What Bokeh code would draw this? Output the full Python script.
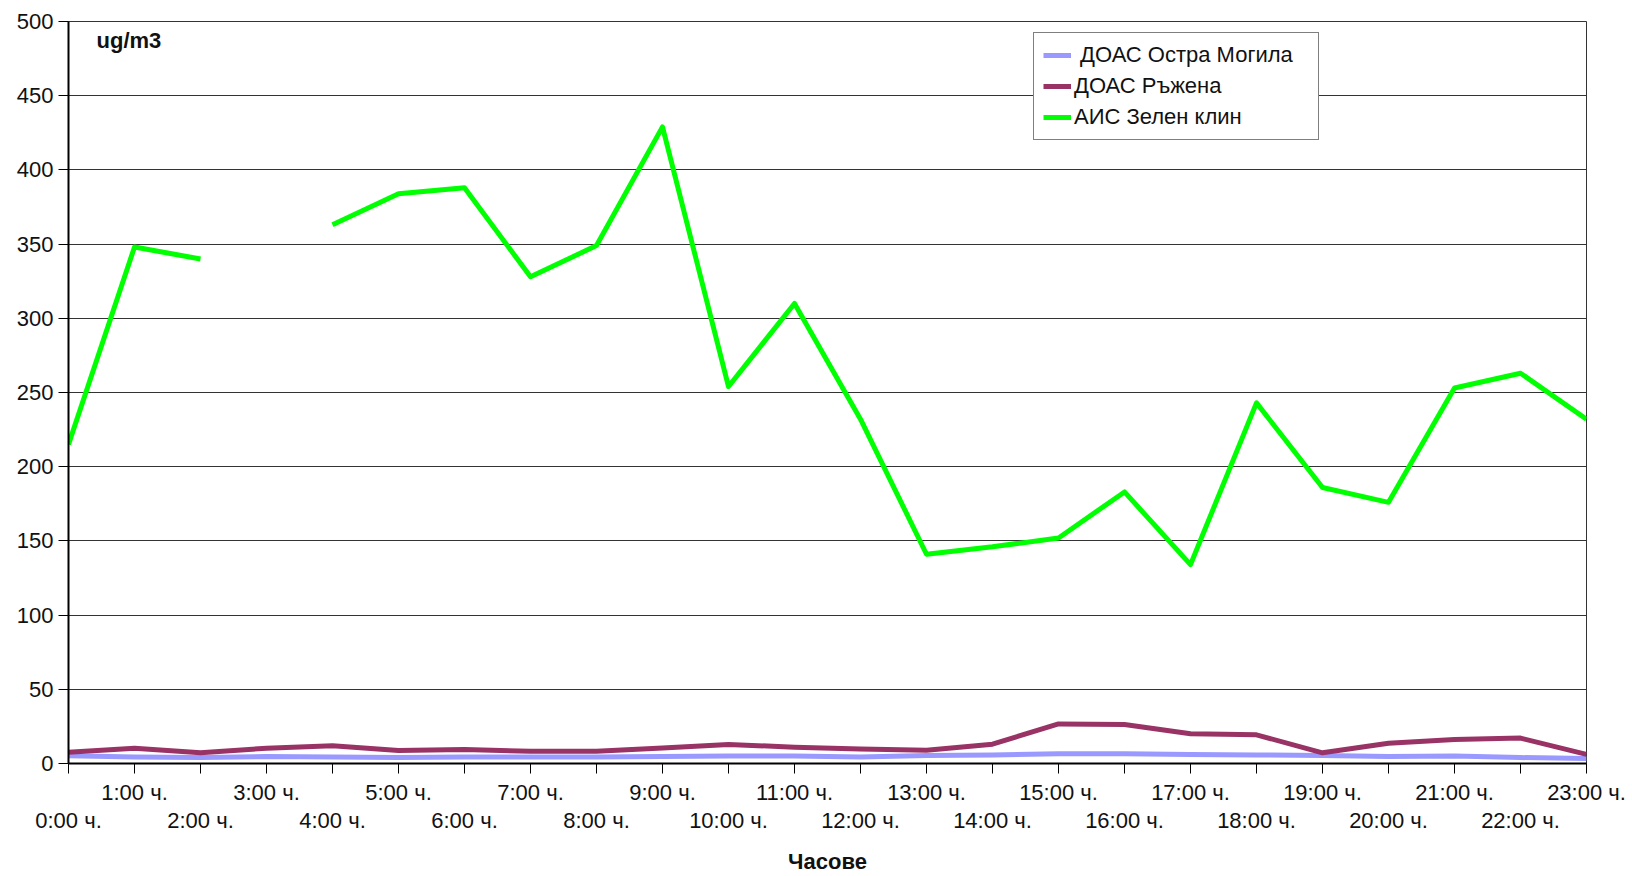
from bokeh.plotting import figure
from bokeh.models import (LinearAxis, FixedTicker, Legend, LegendItem, Label, Range1d)
from bokeh.embed import file_html
from bokeh.resources import INLINE

nan = float("nan")

hours = list(range(24))
hour_labels = [f"{h}:00 ч." for h in hours]
y_ticks = [0, 50, 100, 150, 200, 250, 300, 350, 400, 450, 500]

series_names = [" ДОАС Остра Могила", "ДОАС Ръжена", "АИС Зелен клин"]
ostra_mogila = [5.2, 4.3, 4.0, 4.7, 4.3, 4.0, 4.3, 4.3, 4.3, 4.7, 5.0, 5.0,
                4.3, 5.4, 5.8, 6.5, 6.5, 6.1, 5.8, 5.4, 4.7, 5.0, 4.0, 3.4]
rujena = [7.6, 10.3, 7.2, 10.3, 11.9, 8.8, 9.4, 8.3, 8.3, 10.5, 12.8, 11.0,
          9.7, 9.0, 13.0, 26.7, 26.3, 20.0, 19.3, 7.2, 13.7, 16.2, 17.1, 6.1]
zelen_klin = [215, 348, 340, nan, 363, 384, 388, 328, 349, 429, 254, 310,
              232, 141, 146, 152, 183, 134, 243, 186, 176, 253, 263, 232]

colors = ["#9999FF", "#993366", "#00FF00"]

FONT = "Liberation Sans"
TXT = "#111111"

p = figure(width=1628, height=876, output_backend="svg", toolbar_location=None,
           x_range=Range1d(0, 23), y_range=Range1d(0, 500),
           min_border_left=68, min_border_right=42, min_border_top=21,
           min_border_bottom=113, background_fill_color="white",
           border_fill_color="white")
p.outline_line_color = "#333333"
p.outline_line_width = 1

# x axis (odd labels, all ticks)
p.xaxis.ticker = FixedTicker(ticks=hours, minor_ticks=[])
p.xaxis.major_label_overrides = {h: (hour_labels[h] if h % 2 == 1 else "") for h in hours}
p.xaxis.major_tick_out = 10
p.xaxis.major_tick_in = 0
p.xaxis.minor_tick_line_color = None
p.xaxis.axis_line_color = "black"
p.xaxis.axis_line_width = 2
p.xaxis.major_tick_line_color = "black"
p.xaxis.major_tick_line_width = 1
p.xaxis.major_label_standoff = 6
p.xaxis.major_label_text_font = FONT
p.xaxis.major_label_text_font_size = "22px"
p.xaxis.major_label_text_color = TXT

# second x axis (even labels)
ax2 = LinearAxis(ticker=FixedTicker(ticks=hours[::2], minor_ticks=[]),
                 major_label_overrides={h: hour_labels[h] for h in hours[::2]},
                 axis_line_color=None, major_tick_line_color=None,
                 minor_tick_line_color=None, major_tick_out=0, major_tick_in=0,
                 major_label_standoff=0,
                 major_label_text_font=FONT, major_label_text_font_size="22px",
                 major_label_text_color=TXT,
                 axis_label="Часове", axis_label_text_font=FONT,
                 axis_label_text_font_size="22px", axis_label_text_font_style="bold",
                 axis_label_text_color=TXT, axis_label_standoff=13)
p.add_layout(ax2, "below")

# y axis
p.yaxis.ticker = FixedTicker(ticks=y_ticks, minor_ticks=[])
p.yaxis.major_tick_out = 10
p.yaxis.major_tick_in = 0
p.yaxis.minor_tick_line_color = None
p.yaxis.axis_line_color = "black"
p.yaxis.axis_line_width = 2
p.yaxis.major_tick_line_color = "black"
p.yaxis.major_label_standoff = 5
p.yaxis.major_label_text_font = FONT
p.yaxis.major_label_text_font_size = "22px"
p.yaxis.major_label_text_color = TXT

p.xgrid.visible = False
p.ygrid.ticker = FixedTicker(ticks=y_ticks, minor_ticks=[])
p.ygrid.grid_line_color = "#333333"
p.ygrid.grid_line_width = 1

renderers = []
for vals, c in zip([ostra_mogila, rujena, zelen_klin], colors):
    r = p.line(hours, vals, line_color=c, line_width=5, line_join="round")
    renderers.append(r)

legend = Legend(items=[LegendItem(label=n, renderers=[r]) for n, r in zip(series_names, renderers)],
                location=(965, 623), orientation="vertical",
                label_text_font=FONT, label_text_font_size="22px",
                label_text_color=TXT, label_standoff=3, label_width=235,
                glyph_width=28, glyph_height=24, label_height=24,
                spacing=5, padding=9, margin=0,
                border_line_color="black", border_line_width=1,
                background_fill_color="white", background_fill_alpha=1.0)
p.add_layout(legend, "center")

unit = Label(x=28, y=723, x_units="screen", y_units="screen", text="ug/m3",
             text_font=FONT, text_font_size="22px", text_font_style="bold",
             text_baseline="middle", text_color=TXT)
p.add_layout(unit)

open("out.html", "w").write(file_html(p, INLINE))
